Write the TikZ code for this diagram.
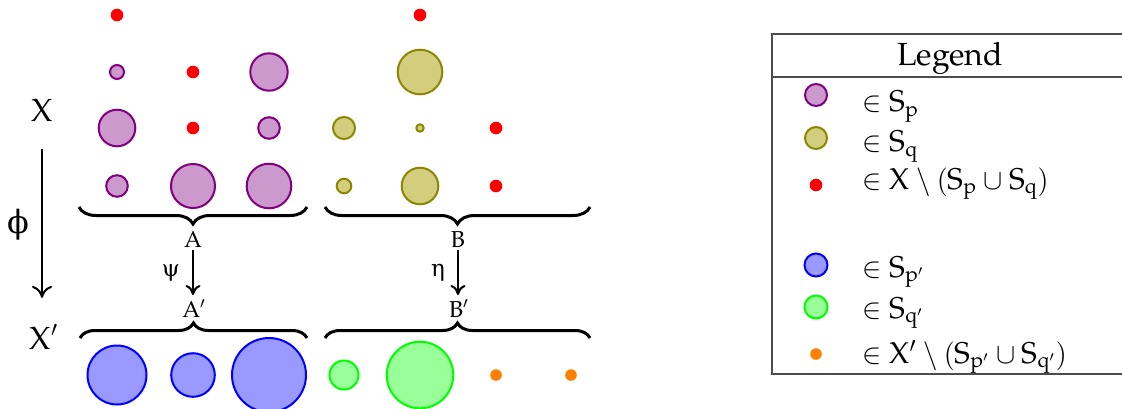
\documentclass[tikz,border=0pt]{standalone}
\usepackage{fontspec}
\setmainfont{TeX Gyre Pagella}
\newfontfamily\grk{DejaVu Serif}
\usetikzlibrary{decorations.pathreplacing,arrows.meta}
\begin{document}
\begin{tikzpicture}[x=0.5pt,y=-0.5pt,
  sp/.style={circle,inner sep=0pt,draw=violet,fill=violet!40,line width=1pt,minimum size=#1pt},
  sq/.style={circle,inner sep=0pt,draw=olive,fill=olive!40,line width=1pt,minimum size=#1pt},
  spp/.style={circle,inner sep=0pt,draw=blue,fill=blue!40,line width=1pt,minimum size=#1pt},
  sqq/.style={circle,inner sep=0pt,draw=green,fill=green!40,line width=1pt,minimum size=#1pt},
  rdot/.style={circle,inner sep=0pt,fill=red,minimum size=6.3pt},
  odot/.style={circle,inner sep=0pt,fill=orange,minimum size=5.8pt},
  brc/.style={decorate,decoration={brace,amplitude=#1},line width=1.5pt},
  big/.style={inner sep=0pt,font=\fontsize{16}{19}\selectfont},
  lab/.style={inner sep=0pt,font=\fontsize{11.5}{13}\selectfont},
  leg/.style={inner sep=0pt,font=\fontsize{15}{17}\selectfont},
  bigarr/.style={-{To[length=6pt,width=10pt]},line width=1pt},
  smallarr/.style={-{To[length=5pt,width=7.5pt]},line width=1pt},
  legline/.style={draw=black!70,line width=0.6pt}]
\useasboundingbox (0,0) rectangle (1122,408);
% top set X, group A
\node[rdot] (a01) at (117,15) {};
\node[sp=7] (a11) at (117,72) {};
\node[rdot] (a12) at (193,72) {};
\node[sp=18.7] (a13) at (269,72) {};
\node[sp=18.3] (a21) at (117,128) {};
\node[rdot] (a22) at (193,128) {};
\node[sp=10.8] (a23) at (269,128) {};
\node[sp=10.8] (a31) at (117,186) {};
\node[sp=22] (a32) at (193,186) {};
\node[sp=22.3] (a33) at (269,186) {};
% group B
\node[rdot] (b02) at (420,15) {};
\node[sq=22.3] (b12) at (420,72) {};
\node[sq=11] (b21) at (344,128) {};
\node[sq=3.7] (b22) at (420,128) {};
\node[rdot] (b23) at (496,128) {};
\node[sq=7.3] (b31) at (344,186) {};
\node[sq=18.3] (b32) at (420,186) {};
\node[rdot] (b33) at (496,186) {};
% bottom set X'
\node[spp=29.5] (c1) at (117,375) {};
\node[spp=21.8] (c2) at (193,375) {};
\node[spp=37] (c3) at (269,375) {};
\node[sqq=14.5] (d1) at (344,375) {};
\node[sqq=33.3] (d2) at (420,375) {};
\node[odot] (d3) at (496,375) {};
\node[odot] (d4) at (571,375) {};
% braces
\draw[brc=8.5pt] (307,207) -- (79,207);
\draw[brc=8.5pt] (590,207) -- (325,207);
\draw[brc=7.5pt] (80,338) -- (307,338);
\draw[brc=7.5pt] (325,338) -- (590,338);
% labels
\node[big,anchor=base] (X) at (42,121) {$\mathrm{X}$};
\node[big,anchor=base] (Xp) at (44,349) {$\mathrm{X}'$};
\node[big] (phi) at (18,225) {\grk ϕ};
\draw[bigarr,shorten <=13.5pt,shorten >=13pt] (X.south) -- (X.south |- Xp.north);
\node[lab,anchor=base] (A) at (193,247) {$\mathrm{A}$};
\node[lab,anchor=base] (Ap) at (194,317) {$\mathrm{A}'$};
\node[lab] (psi) at (171,273) {\grk ψ};
\draw[smallarr,shorten <=1.5pt,shorten >=2pt] (A.south) -- (A.south |- Ap.north);
\node[lab,anchor=base] (B) at (458,247) {$\mathrm{B}$};
\node[lab,anchor=base] (Bp) at (459,317) {$\mathrm{B}'$};
\node[lab] (eta) at (438,273) {\grk η};
\draw[smallarr,shorten <=1.5pt,shorten >=2pt] (B.south) -- (B.south |- Bp.north);
% legend
\draw[legline] (1122,34) -- (772,34) -- (772,374) -- (1122,374);
\draw[legline] (772,77) -- (1122,77);
\node[big,anchor=base] (legtitle) at (950,65) {Legend};
\node[sp=11] (k1) at (816,95) {};
\node[sq=11] (k2) at (816,138) {};
\node[rdot] (k3) at (816,185) {};
\node[spp=11.5] (k4) at (816,265) {};
\node[sqq=11.5] (k5) at (816,307) {};
\node[odot] (k6) at (816,354) {};
\node[leg,anchor=base west] (t1) at (862,111.7) {$\in \mathrm{S}_{\mathrm{p}}$};
\node[leg,anchor=base west] (t2) at (862,151.7) {$\in \mathrm{S}_{\mathrm{q}}$};
\node[leg,anchor=base west] (t3) at (862,189) {$\in \mathrm{X}\setminus(\mathrm{S}_{\mathrm{p}}\cup \mathrm{S}_{\mathrm{q}})$};
\node[leg,anchor=base west] (t4) at (862,277) {$\in \mathrm{S}_{\mathrm{p}'}$};
\node[leg,anchor=base west] (t5) at (862,318) {$\in \mathrm{S}_{\mathrm{q}'}$};
\node[leg,anchor=base west] (t6) at (862,363) {$\in \mathrm{X}'\setminus(\mathrm{S}_{\mathrm{p}'}\cup \mathrm{S}_{\mathrm{q}'})$};
\end{tikzpicture}
\end{document}
